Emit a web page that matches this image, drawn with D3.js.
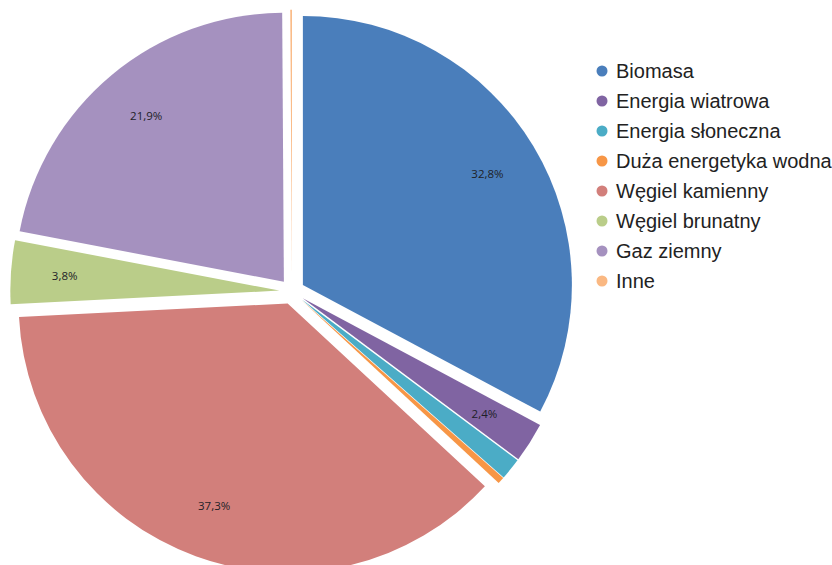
<!DOCTYPE html>
<html>
<head>
<meta charset="utf-8">
<script src="https://cdn.jsdelivr.net/npm/d3@7"></script>
<style>
  body { margin: 0; background: #fff; overflow: hidden; }
</style>
</head>
<body>
<div id="chart"></div>
<script>
const categories = ['Biomasa', 'Energia wiatrowa', 'Energia słoneczna', 'Duża energetyka wodna',
  'Węgiel kamienny', 'Węgiel brunatny', 'Gaz ziemny', 'Inne']
const values = [32.8, 2.4, 1.3, 0.4, 37.3, 3.8, 21.9, 0.1]
const labels = ['32,8%', '2,4%', '', '', '37,3%', '3,8%', '21,9%', '']
const colors = ['#4a7ebb', '#8064a2', '#4bacc6', '#f79646', '#d27f7b', '#bacd89', '#a591bf', '#fab882']

const width = 832
const height = 565
const cx = 292, cy = 291.5
const radius = 269
const explode = 12.7

const svg = d3.select('#chart')
  .append('svg')
  .attr('width', width)
  .attr('height', height)

const data = categories.map((name, i) => ({ name, value: values[i], label: labels[i], color: colors[i] }))

const pie = d3.pie().sort(null).value(d => d.value)
const arc = d3.arc().innerRadius(0).outerRadius(radius)
const labelArc = d3.arc().innerRadius(radius * 0.8).outerRadius(radius * 0.8)

// every slice is pulled out along its middle angle
const offset = a => {
  const mid = (a.startAngle + a.endAngle) / 2
  return [Math.sin(mid) * explode, -Math.cos(mid) * explode]
}

const slices = svg.append('g')
  .attr('transform', `translate(${cx},${cy})`)
  .selectAll('g.slice')
  .data(pie(data))
  .join('g')
  .attr('class', 'slice')
  .attr('transform', a => `translate(${offset(a)})`)

slices.append('path')
  .attr('d', arc)
  .attr('fill', a => a.data.color)

slices.filter(a => a.data.label)
  .append('text')
  .attr('transform', a => `translate(${labelArc.centroid(a)})`)
  .attr('text-anchor', 'middle')
  .attr('dy', '0.35em')
  .attr('font-family', 'Open Sans, sans-serif')
  .attr('font-size', 11.5)
  .attr('fill', '#1e1e28')
  .text(a => a.data.label)

// legend
const legend = svg.append('g')
  .attr('transform', 'translate(602,71)')
  .selectAll('g.item')
  .data(data)
  .join('g')
  .attr('class', 'item')
  .attr('transform', (d, i) => `translate(0,${i * 30})`)

legend.append('circle')
  .attr('r', 5.5)
  .attr('fill', d => d.color)

legend.append('text')
  .attr('x', 14)
  .attr('dy', '0.35em')
  .attr('font-family', 'Liberation Sans, Arial, sans-serif')
  .attr('font-size', 20)
  .attr('fill', '#222')
  .text(d => d.name)
</script>
</body>
</html>
